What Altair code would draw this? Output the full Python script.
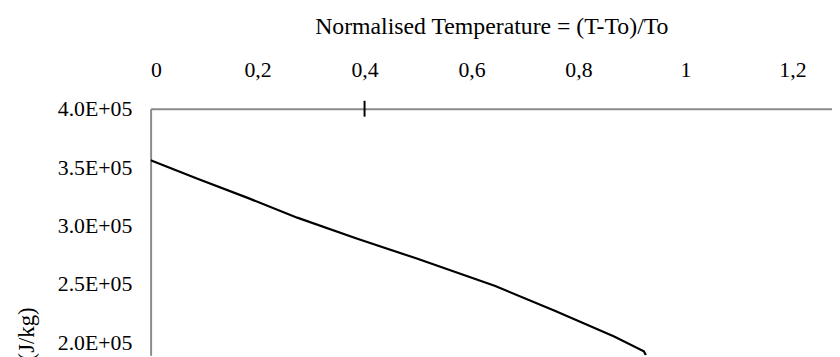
import altair as alt
import pandas as pd

# Data
norm_temp = [0.0, 0.0889, 0.1815, 0.2741, 0.3852, 0.4963, 0.6444, 0.7556, 0.8667, 0.9222, 0.926]
energy = [355900, 339800, 323700, 306800, 289000, 272000, 248300, 227100, 205100, 192400, 189000]

x_ticks = [0, 0.2, 0.4, 0.6, 0.8, 1, 1.2]
y_ticks = [400000, 350000, 300000, 250000, 200000, 150000, 100000, 50000, 0]
major_tick_marks = [0.4]

df = pd.DataFrame({"t": norm_temp, "e": energy})
ticks_df = pd.DataFrame({"t": major_tick_marks})

FONT = "Liberation Serif"

x_enc = alt.X(
    "t:Q",
    scale=alt.Scale(domain=[0, 1.274], nice=False, zero=False),
    axis=alt.Axis(
        orient="top",
        values=x_ticks,
        labelExpr="replace(toString(datum.value), '.', ',')",
        ticks=False,
        grid=False,
        domainColor="#8a8a8a",
        domainWidth=2,
        labelPadding=28,
        labelFont=FONT,
        labelFontSize=22,
        labelColor="black",
        title="Normalised Temperature = (T-To)/To",
        titleFont=FONT,
        titleFontSize=24,
        titleFontWeight="normal",
        titleColor="black",
        titlePadding=20,
    ),
)

line = (
    alt.Chart(df)
    .mark_line(color="black", strokeWidth=2.2, clip=True)
    .encode(
        x=x_enc,
        y=alt.Y(
            "e:Q",
            scale=alt.Scale(domain=[189000, 400000], nice=False, zero=False),
            axis=alt.Axis(
                values=y_ticks,
                labelExpr="replace(format(datum.value, '.1e'), 'e+', 'E+0')",
                ticks=False,
                grid=False,
                domainColor="#8a8a8a",
                domainWidth=2,
                labelPadding=19,
                labelFont=FONT,
                labelFontSize=22,
                labelColor="black",
                labelOverlap=False,
                title="Exergy (J/kg)",
                titleFont=FONT,
                titleFontSize=23,
                titleFontWeight="normal",
                titleColor="black",
                titleAlign="right",
                titleAnchor="start",
                titleY=200,
                titleX=-113,
            ),
        ),
    )
)

tick_marks = (
    alt.Chart(ticks_df)
    .mark_rule(color="black", strokeWidth=2)
    .encode(x=alt.X("t:Q"), y=alt.value(-8), y2=alt.value(8))
)

chart = (
    alt.layer(line, tick_marks)
    .properties(
        width=688,
        height=249,
        autosize=alt.AutoSizeParams(type="none"),
        padding={"left": 144, "top": 100, "right": 0, "bottom": 0},
    )
    .configure_view(strokeWidth=0)
)

chart.save("out.html", embed_options={"renderer": "svg", "actions": False})
